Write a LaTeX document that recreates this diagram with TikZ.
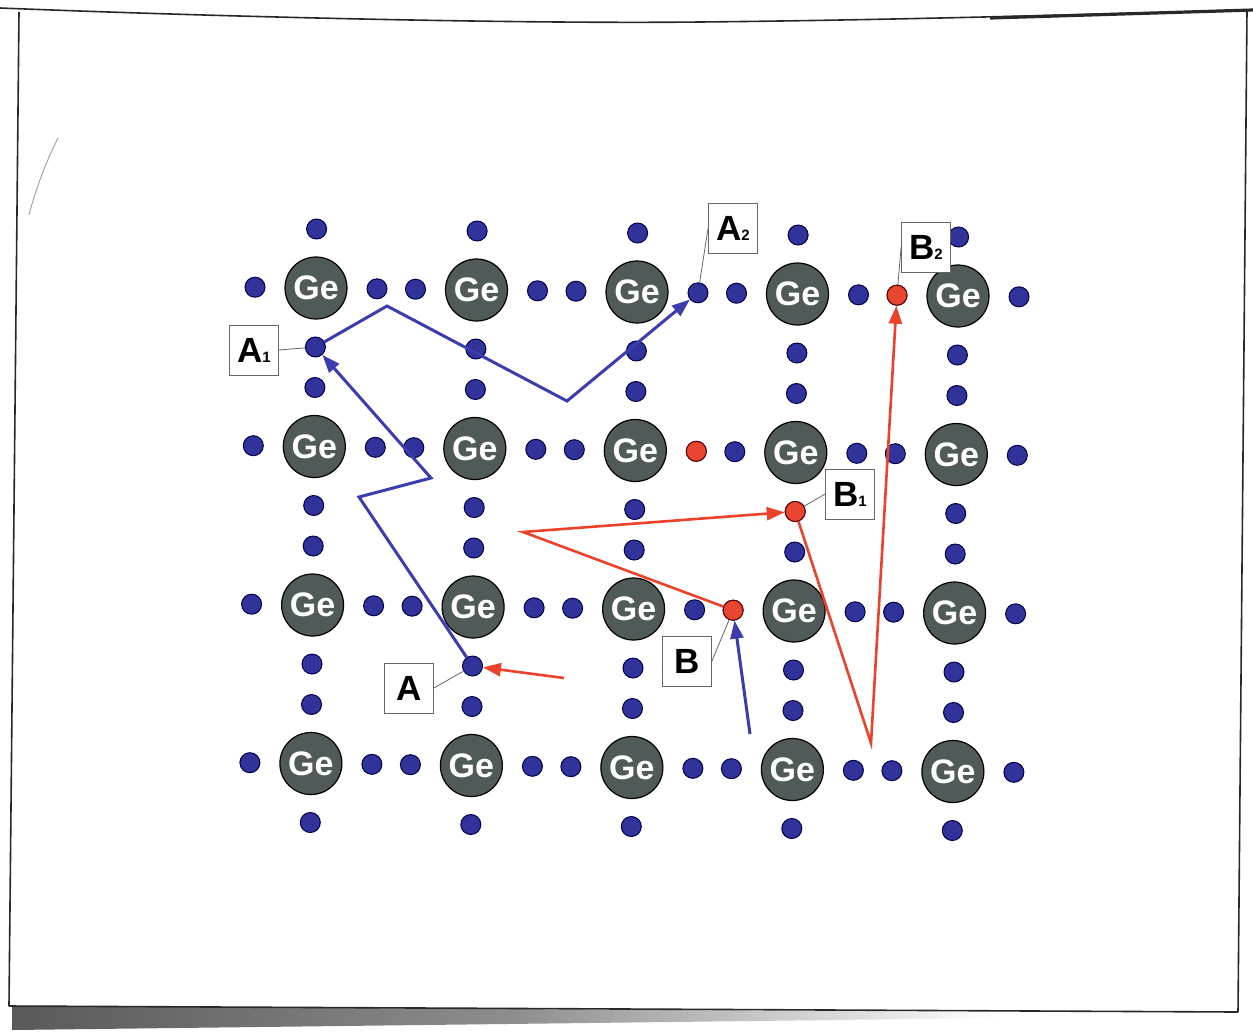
\documentclass[tikz,border=0pt]{standalone}
\usepackage{fontspec}
\setmainfont{Liberation Sans}
\usetikzlibrary{arrows.meta}

\definecolor{geatom}{RGB}{80,90,89}
\definecolor{elec}{RGB}{50,50,155}
\definecolor{hole}{RGB}{232,70,48}
\definecolor{bpath}{RGB}{60,60,175}
\definecolor{rpath}{RGB}{236,66,44}
\definecolor{pageedge}{RGB}{40,40,40}

\newcommand\lsub[1]{{\fontsize{7.5}{7.5}\selectfont #1}}

\tikzset{
  ge/.style={circle, fill=geatom, draw=black, line width=0.6pt, minimum size=31pt,
    inner sep=0pt, text=white, font=\bfseries\fontsize{17}{17}\selectfont},
  eb/.style={circle, fill=elec, draw=black!70!blue, line width=0.5pt,
    minimum size=10pt, inner sep=0pt},
  eh/.style={eb, fill=hole, draw=black!60!red},
  lbl/.style={draw=black!60, line width=0.4pt, fill=white, minimum width=24.5pt,
    minimum height=25pt, inner sep=0pt, font=\bfseries\fontsize{17.5}{17.5}\selectfont},
  lblline/.style={draw=black!60, line width=0.4pt},
  bluepath/.style={draw=bpath, line width=1.5pt, -{Triangle[length=9pt,width=6.5pt]}},
  redpath/.style={draw=rpath, line width=1.3pt, -{Triangle[length=9pt,width=6.5pt]}},
  edge/.style={draw=pageedge, line width=0.8pt},
}

\begin{document}
\begin{tikzpicture}[x=0.5pt, y=-0.5pt]
  \useasboundingbox (0,0) rectangle (1253,1034);
  \fill[white] (0,0) rectangle (1253,1034);

  % page edges of the sheet
  \shade[left color=black!65, right color=white, middle color=black!45]
    (12,1006) -- (1000,1012) -- (1000,1018) -- (12,1030) -- cycle;
  \draw[edge] (0,8) .. controls (200,16) and (500,24) .. (700,22)
    .. controls (900,20) and (1100,14) .. (1253,10);
  \draw[pageedge, line width=1.6pt] (990,18) -- (1253,10);
  \draw[edge] (19,12) -- (9,1006);
  \draw[edge] (1247,10) -- (1238,1012);
  \draw[edge] (9,1006) -- (1238,1012);
  \draw[black!35, line width=0.5pt] (58,138) .. controls (46,162) and (36,188) .. (29,215);

  % germanium lattice with its bonding electrons
  \foreach \i in {1,...,4}{
    \foreach \j in {1,...,5}{
      \pgfmathsetmacro\gx{316+160.5*(\j-1)-1.7*(\i-1)}
      \pgfmathsetmacro\gy{288+2*(\j-1)+158.5*(\i-1)}
      \node[ge] (G-\i-\j) at (\gx,\gy) {Ge};
      \node[eb] (L-\i-\j) at (\gx-61,\gy-0.8) {};
      \node[eb] (R-\i-\j) at (\gx+61,\gy+0.8) {};
      \node[eb] (U-\i-\j) at (\gx+0.6,\gy-59) {};
      \node[eb] (D-\i-\j) at (\gx-0.6,\gy+59) {};
    }
  }

  % holes
  \node[eh] (hB2) at (L-1-5) {};
  \node[eh] (hX)  at (R-2-3) {};
  \node[eh] (hB1) at (D-2-4) {};
  \node[eh] (hB)  at (L-3-4) {};

  % electron jumps
  \draw[bluepath] (D-3-2) -- (359,497) -- (431,478) -- (D-1-1);
  \draw[bluepath] (D-1-1) -- (387,306) -- (567,401) -- (R-1-3);
  \coordinate (bB) at (750,734);
  \draw[bluepath] (bB) -- (hB);

  % hole motion
  \coordinate (rA) at (564,678);
  \draw[redpath] (rA) -- (D-3-2);
  \draw[redpath] (hB) -- (523,532) -- (hB1);
  \draw[redpath] (hB1) -- (871,743) -- (hB2);

  % labels
  \node[lbl] (lA1) at (254,350) {A\lsub{1}};
  \node[lbl] (lA2) at (733,228) {A\lsub{2}};
  \node[lbl] (lB2) at (926,247) {B\lsub{2}};
  \node[lbl] (lB1) at (850,494) {B\lsub{1}};
  \node[lbl] (lB)  at (687,661) {B};
  \node[lbl] (lA)  at (409,688) {A};
  \draw[lblline] (lA1.east) -- (D-1-1);
  \draw[lblline] (lA2.west) -- (R-1-3);
  \draw[lblline] (lB2.west) -- (hB2);
  \draw[lblline] (lB1.west) -- (hB1);
  \draw[lblline] (lB.east) -- (hB);
  \draw[lblline] (lA.east) -- (D-3-2);
\end{tikzpicture}
\end{document}
